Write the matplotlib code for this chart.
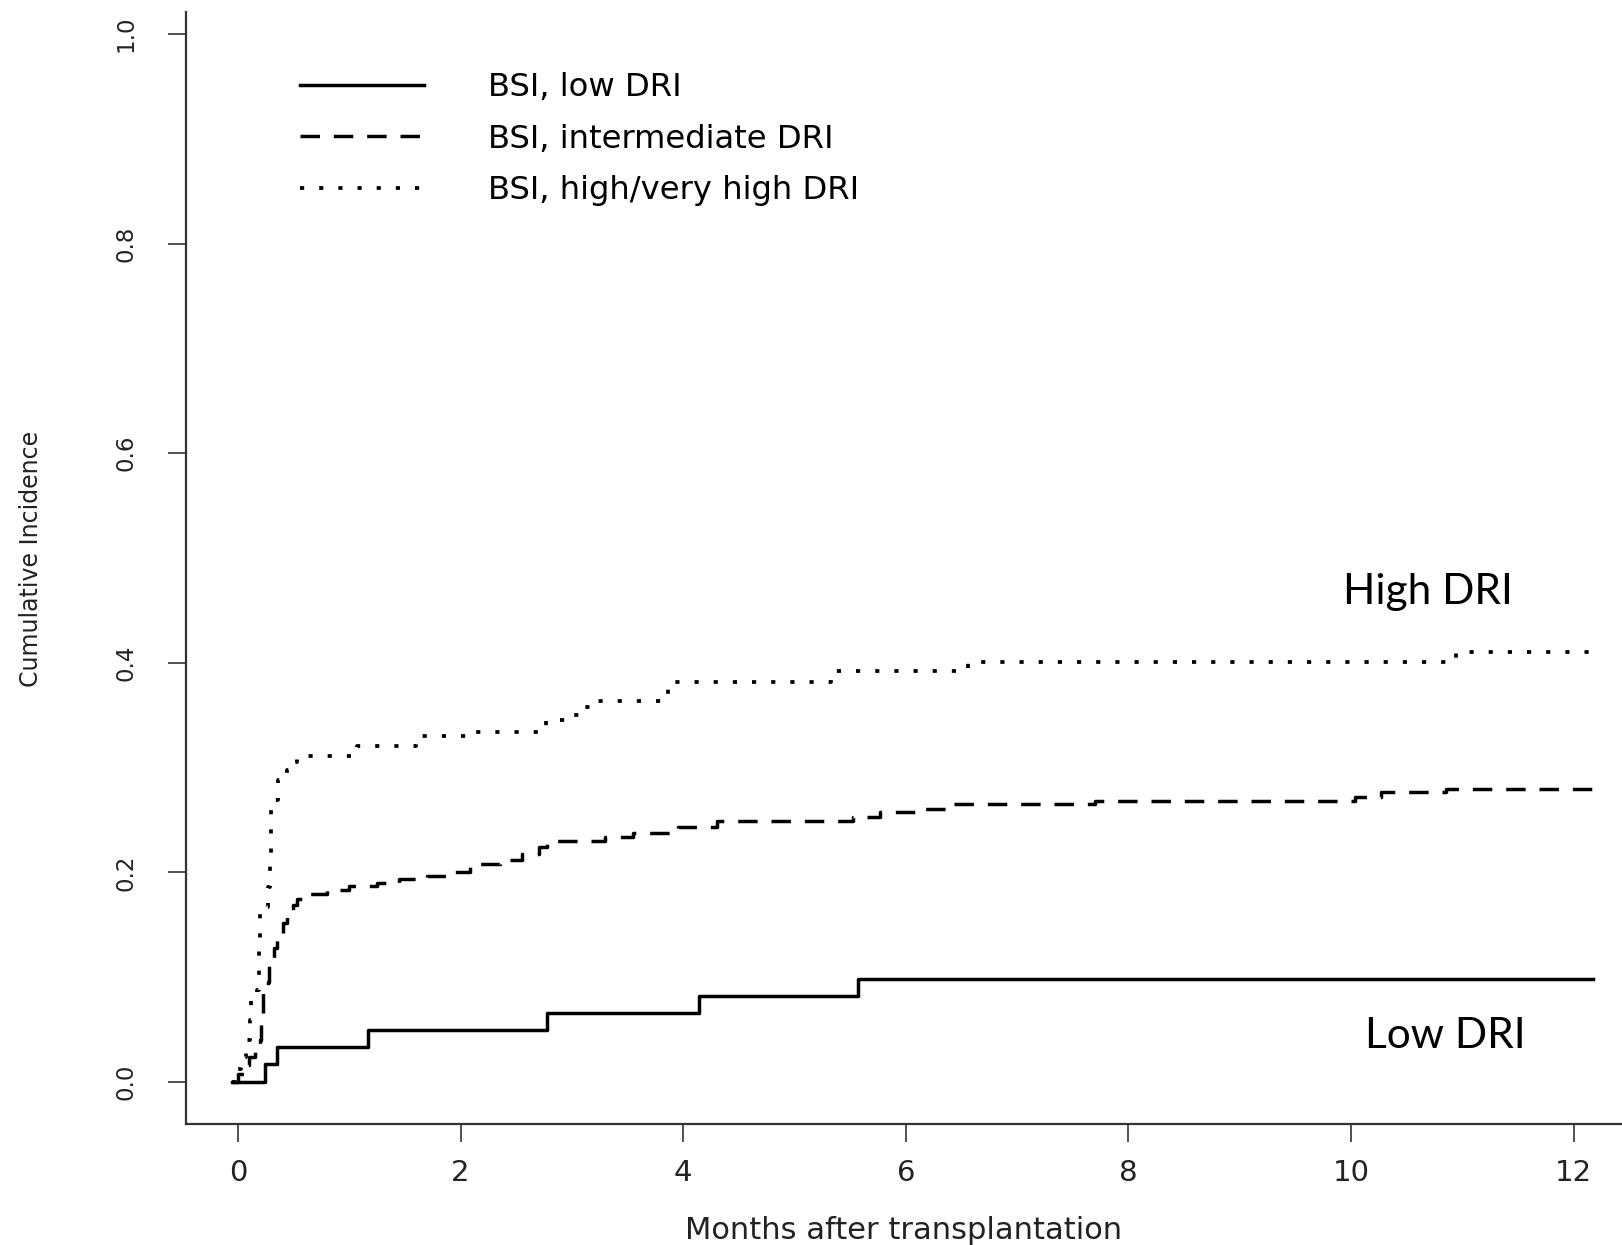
import matplotlib
matplotlib.use('Agg')
import matplotlib.pyplot as plt

plt.rcParams['font.family'] = ['DejaVu Sans']
plt.rcParams['lines.scale_dashes'] = False

# cumulative incidence step data (months, incidence)
low_t = [-0.05, 0.24, 0.35, 1.17, 2.78, 4.14, 5.57, 12.17]
low_v = [0.0, 0.017, 0.033, 0.050, 0.066, 0.082, 0.098, 0.098]

int_t = [-0.05, 0.00, 0.05, 0.10, 0.15, 0.20, 0.21, 0.22, 0.27, 0.28, 0.32, 0.35,
         0.40, 0.44, 0.49, 0.53, 0.65, 0.80, 1.00, 1.25, 1.45, 1.70, 1.95, 2.08,
         2.35, 2.55, 2.70, 2.78, 3.30, 3.55, 3.95, 4.30, 5.53, 5.77, 6.12, 6.41,
         7.70, 10.04, 10.27, 10.85, 12.17]
int_v = [0.0, 0.008, 0.016, 0.024, 0.032, 0.040, 0.062, 0.085, 0.095, 0.116, 0.128, 0.142,
         0.152, 0.161, 0.169, 0.175, 0.179, 0.183, 0.187, 0.190, 0.194, 0.197, 0.200, 0.208,
         0.212, 0.218, 0.224, 0.230, 0.234, 0.238, 0.243, 0.249, 0.253, 0.258, 0.261, 0.265,
         0.268, 0.272, 0.277, 0.280, 0.280]

high_t = [-0.05, 0.00, 0.03, 0.07, 0.11, 0.12, 0.17, 0.19, 0.20, 0.27, 0.29, 0.30,
          0.36, 0.44, 0.48, 0.53, 1.07, 1.60, 2.05, 2.70, 2.77, 2.95, 3.12, 3.19,
          3.86, 5.33, 6.56, 10.94, 12.17]
high_v = [0.0, 0.012, 0.024, 0.040, 0.059, 0.078, 0.088, 0.125, 0.167, 0.186, 0.210, 0.269,
          0.288, 0.298, 0.305, 0.311, 0.321, 0.330, 0.334, 0.338, 0.345, 0.350, 0.358, 0.364,
          0.382, 0.392, 0.401, 0.410, 0.410]

labels = ['BSI, low DRI', 'BSI, intermediate DRI', 'BSI, high/very high DRI']
xticks = [0, 2, 4, 6, 8, 10, 12]
yticks = [0.0, 0.2, 0.4, 0.6, 0.8, 1.0]

fig = plt.figure(figsize=(16.22, 12.45), dpi=100)
ax = fig.add_axes([0.1147, 0.0972, 0.8853, 0.8932])

ax.plot(low_t, low_v, color='black', lw=2.5, drawstyle='steps-post', label=labels[0])
ax.plot(int_t, int_v, color='black', lw=2.5, drawstyle='steps-post',
        dashes=(14, 10), label=labels[1])
ax.plot(high_t, high_v, color='black', lw=2.7, drawstyle='steps-post',
        dashes=(3.0, 10.8), label=labels[2])

ax.set_xlim(-0.467, 12.435)
ax.set_ylim(-0.040, 1.021)
ax.set_xticks(xticks)
ax.set_xticklabels([str(t) for t in xticks])
ax.set_yticks(yticks)
ax.set_yticklabels(['%.1f' % t for t in yticks], rotation=90, va='center')

for s in ['top', 'right']:
    ax.spines[s].set_visible(False)
for s in ['left', 'bottom']:
    ax.spines[s].set_linewidth(1.6)
    ax.spines[s].set_color('#333333')

ax.tick_params(axis='x', length=13, width=1.1, pad=12, labelsize=21, colors='#222222')
ax.tick_params(axis='y', length=13, width=1.1, pad=22, labelsize=16.5, colors='#222222')

ax.set_xlabel('Months after transplantation', fontsize=22, color='#222222', va='center')
ax.xaxis.set_label_coords(0.5, -0.0962)
ax.set_ylabel('Cumulative Incidence', fontsize=17, color='#222222', va='center')
ax.yaxis.set_label_coords(-0.108, 0.508)

ax.legend(loc='upper left', bbox_to_anchor=(300 / 1622, 1 - 72 / 1245),
          bbox_transform=fig.transFigure, frameon=False, fontsize=23.2,
          handlelength=3.85, handletextpad=1.98, labelspacing=0.64,
          borderpad=0, borderaxespad=0)

ax.text(9.93, 0.468, 'High DRI', family='Lato', fontsize=30.5, va='center', ha='left')
ax.text(10.13, 0.044, 'Low DRI', family='Lato', fontsize=30.5, va='center', ha='left')

fig.savefig('out.png', dpi=100)
